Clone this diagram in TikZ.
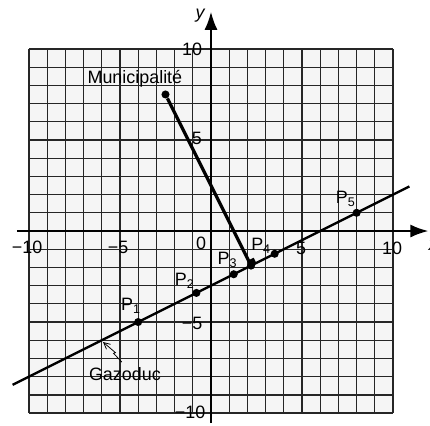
\documentclass[tikz,border=0pt]{standalone}
\usepackage{fontspec}
\setmainfont{Liberation Sans}
\usetikzlibrary{arrows.meta,calc}

\begin{document}
\begin{tikzpicture}[x=0.5cm,y=0.5cm,font=\fontsize{14}{16}\selectfont,
  dot/.style={circle,fill,inner sep=0pt,minimum size=6.3pt},
  lbl/.style={inner sep=0pt}]
\useasboundingbox (-11.59,-10.66) rectangle (12.03,12.69);
\fill[black!4] (-10,-10) rectangle (10,10);
\draw[black!85,line width=1pt,step=0.5cm] (-10,-10) grid (10,10);
% axes
\coordinate (xmin) at (-10.66,0);
\coordinate (xmax) at (11.95,0);
\coordinate (ymin) at (0,-10.55);
\coordinate (ymax) at (0,12.05);
\draw[line width=1.8pt,-{Latex[length=0.5cm,width=0.36cm]}] (xmin) -- (xmax);
\draw[line width=1.8pt,-{Latex[length=0.5cm,width=0.36cm]}] (ymin) -- (ymax);
\node[lbl,font=\fontsize{14}{16}\selectfont\itshape] (xlab) at (12.2,-0.8) {x};
\node[lbl,font=\fontsize{14}{16}\selectfont\itshape] (ylab) at (-0.6,11.85) {y};
\node[lbl] (xm10) at (-10.1,-0.88) {−10};
\node[lbl] (xm5) at (-5.1,-0.9) {−5};
\node[lbl] (x0) at (-0.55,-0.68) {0};
\node[lbl] (x5) at (4.95,-0.93) {5};
\node[lbl] (x10) at (9.95,-0.93) {10};
\node[lbl] (y10) at (-1.04,10) {10};
\node[lbl] (y5) at (-0.77,5.1) {5};
\node[lbl] (ym5) at (-1.04,-5.05) {−5};
\node[lbl] (ym10) at (-1.15,-9.95) {−10};
% gazoduc
\coordinate (gA) at (-10.9,-8.45);
\coordinate (gB) at (10.9,2.45);
\draw[line width=1.8pt] (gA) -- (gB);
\node[dot] (p1) at (-4,-5) {};
\node[dot] (p2) at (-0.8,-3.4) {};
\node[dot] (p3) at (1.25,-2.375) {};
\node[dot] (p4) at (2.2,-1.9) {};
\node[dot] (q) at (3.5,-1.25) {};
\node[dot] (p5) at (8,1) {};
\node[lbl] (p1lab) at (-4.4,-4.1) {P\textsubscript{1}};
\node[lbl] (p2lab) at (-1.45,-2.75) {P\textsubscript{2}};
\node[lbl] (p3lab) at (0.9,-1.6) {P\textsubscript{3}};
\node[lbl] (p4lab) at (2.75,-0.8) {P\textsubscript{4}};
\node[lbl] (p5lab) at (7.4,1.75) {P\textsubscript{5}};
% municipalite
\node[dot] (muni) at (-2.5,7.5) {};
\node[lbl] (munilab) at (-4.18,8.35) {Municipalité};
\draw[line width=2.6pt] (muni) -- (p4.center);
\fill[rotate around={26.57:(p4)}] (p4.center) rectangle ++(0.32,0.32);
\node[lbl] (gazlab) at (-4.73,-7.85) {Gazoduc};
\coordinate (gtip) at (-5.93,-6.1);
\draw[line width=0.6pt,-{Straight Barb[length=5pt,width=5pt]}] (-4.9,-7.2) -- (-5.35,-6.72) -- (-5.25,-6.68) -- (gtip);
\end{tikzpicture}
\end{document}
